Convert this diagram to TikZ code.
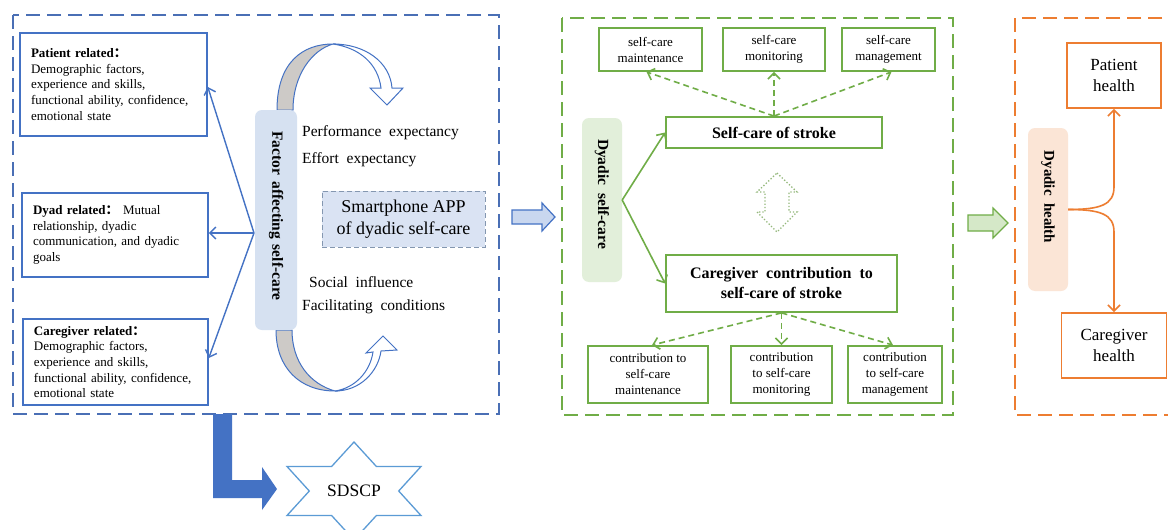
\documentclass[tikz,border=0pt]{standalone}
\usepackage{fontspec}
\setmainfont{Liberation Serif}
\newfontfamily\cjkfont{Noto Sans CJK SC}
\usetikzlibrary{arrows.meta}
\definecolor{bl}{HTML}{4472C4}
\definecolor{bldash}{HTML}{4A6FB5}
\definecolor{lbl}{HTML}{D6E1F1}
\definecolor{appfill}{HTML}{DAE3F3}
\definecolor{appdraw}{HTML}{8497B0}
\definecolor{gr}{HTML}{70AD47}
\definecolor{lgr}{HTML}{E2EFDA}
\definecolor{dgr}{HTML}{93B87A}
\definecolor{lgreenarrow}{HTML}{D5E8C8}
\definecolor{lbluearrow}{HTML}{C9D7EF}
\definecolor{org}{HTML}{ED7D31}
\definecolor{lorg}{HTML}{FBE5D6}
\definecolor{star}{HTML}{5B9BD5}
\definecolor{band}{HTML}{CDCAC7}
\tikzset{
  container/.style={dashed, dash pattern=on 14pt off 7pt, line width=1.8pt},
  leftbox/.style={draw=bl, line width=1.6pt, fill=white, align=left, inner xsep=11pt, inner ysep=0pt, font=\fontsize{13}{15.6}\selectfont},
  vbox/.style={rounded corners=7pt, inner sep=0pt},
  vtext/.style={rotate=-90, font=\fontsize{15}{18}\selectfont\bfseries, inner sep=0pt},
  factortext/.style={anchor=west, inner sep=0pt, font=\fontsize{15.5}{18}\selectfont},
  gbox/.style={draw=gr, line width=1.8pt, fill=white, align=center, inner sep=0pt, font=\fontsize{13}{16}\selectfont},
  gbig/.style={draw=gr, line width=1.8pt, fill=white, align=center, inner sep=0pt, font=\fontsize{16}{20}\selectfont\bfseries},
  obox/.style={draw=org, line width=1.8pt, fill=white, align=center, inner sep=0pt, font=\fontsize{17}{21}\selectfont},
  barb/.style={-{Straight Barb[length=6pt,width=12pt]}},
  bandgray/.style={fill=band, draw=bl, line width=1pt},
  bandwhite/.style={fill=white, draw=bl, line width=1pt},
}
\begin{document}
\begin{tikzpicture}[x=1pt,y=-1pt]
\useasboundingbox (0,0) rectangle (1168,530);
\clip (0,0) rectangle (1168,530);
\fill[white] (0,0) rectangle (1168,530);

% ---------------- left (blue) container
\draw[container, draw=bldash] (13,15) rectangle (499,414);

\node[leftbox, text width=165pt, minimum height=103pt] (pat) at (113.5,84.5)
 {\textbf{Patient related{\cjkfont ：}}\\Demographic factors,\\experience and skills,\\functional ability, confidence,\\emotional state};
\node[leftbox, text width=164pt, minimum height=84pt] (dya) at (115,235)
 {\textbf{Dyad related{\cjkfont ：}} Mutual\\relationship, dyadic\\communication, and dyadic\\goals};
\node[leftbox, text width=163pt, minimum height=86pt] (cgr) at (115.5,362)
 {\textbf{Caregiver related{\cjkfont ：}}\\Demographic factors,\\experience and skills,\\functional ability, confidence,\\emotional state};

% curved band arrows
\draw[bandgray] (277,110) .. controls (277,62) and (303,44) .. (333,44)
  .. controls (312,50) and (293,75) .. (293,110) -- cycle;
\draw[bandwhite] (333,44) .. controls (365,44) and (390,62) .. (392,88)
  -- (403,88) -- (387,105) -- (370,88) -- (381,88)
  .. controls (378,64) and (360,48) .. (333,44) -- cycle;
\draw[bandgray] (276,330) .. controls (276,368) and (300,391) .. (335,391)
  .. controls (310,384) and (292,362) .. (292,330) -- cycle;
\draw[bandwhite] (335,391) .. controls (360,391) and (378,372) .. (381,351)
  -- (397,350) -- (383,336) -- (366,353) -- (373,352)
  .. controls (370,372) and (355,388) .. (335,391) -- cycle;

\node[vbox, fill=lbl, minimum width=42pt, minimum height=220pt] (fa) at (276,220) {};
\node[vtext, font=\fontsize{15.5}{18}\selectfont\bfseries] (fat) at (276,216) {Factor\hspace{6pt}affecting\hspace{6pt}self-care};
\coordinate (fork) at (254,233);
\draw[bl, line width=1.4pt, barb] (fork) -- (pat.east |- 0,87);
\draw[bl, line width=1.4pt, barb] (fork) -- (dya.east |- fork);
\draw[bl, line width=1.4pt, barb] (fork) -- (cgr.east |- 0,358);

\node[factortext] (pe) at (302,133) {Performance\ \ expectancy};
\node[factortext] (ee) at (302,160) {Effort\ \ expectancy};
\node[factortext] (si) at (309,282) {Social\ \ influence};
\node[factortext] (fc) at (302,307) {Facilitating\ \ conditions};
\node[draw=appdraw, dashed, dash pattern=on 5pt off 3pt, line width=1pt, fill=appfill,
  minimum width=163pt, minimum height=56pt, align=center, inner sep=0pt,
  font=\fontsize{18}{22}\selectfont] (app) at (403.5,219) {Smartphone APP\\of dyadic self-care};

% L arrow and star
\fill[bl] (213,414) -- (232,414) -- (232,480) -- (262,480) -- (262,467)
  -- (277,489) -- (262,510) -- (262,498) -- (213,498) -- cycle;
\draw[star, line width=1.3pt, fill=white] (354,442) -- (376.4,466.5) -- (421,466.5) -- (398.7,491)
  -- (421,515.5) -- (376.4,515.5) -- (354,540) -- (331.6,515.5) -- (287,515.5)
  -- (309.3,491) -- (287,466.5) -- (331.6,466.5) -- cycle;
\node[font=\fontsize{17.5}{20}\selectfont, inner sep=0pt] (sd) at (354,491) {SDSCP};

% block arrow blue
\draw[bl, line width=1.2pt, fill=lbluearrow] (512,210) -- (542,210) -- (542,203) -- (555,217)
  -- (542,231) -- (542,224) -- (512,224) -- cycle;

% ---------------- middle (green) container
\draw[container, draw=gr] (562,18) rectangle (953,415);

\node[gbox, minimum width=103pt, minimum height=43pt] (m1) at (650.5,49.5) {self-care\\maintenance};
\node[gbox, minimum width=102pt, minimum height=43pt] (m2) at (774,49.5) {self-care\\monitoring};
\node[gbox, minimum width=93pt, minimum height=43pt] (m3) at (888.5,49.5) {self-care\\management};

\node[gbig, minimum width=216pt, minimum height=31pt] (scs) at (774,132.5) {Self-care\ of\ stroke};
\node[gbig, minimum width=231pt, minimum height=57pt] (cgc) at (781.5,283.5)
  {Caregiver\ \ contribution\ \ to\\self-care\ of\ stroke};

\node[gbox, minimum width=120pt, minimum height=57pt] (b1) at (648,374.5) {contribution to\\self-care\\maintenance};
\node[gbox, minimum width=101pt, minimum height=57pt] (b2) at (781.5,374.5) {contribution\\to self-care\\monitoring};
\node[gbox, minimum width=94pt, minimum height=57pt] (b3) at (895,374.5) {contribution\\to self-care\\management};

\node[vbox, fill=lgr, minimum width=40pt, minimum height=164pt] (ds) at (602,200) {};
\node[vtext, font=\fontsize{15.5}{18}\selectfont\bfseries] (dst) at (602,194) {Dyadic\ \ self-care};

\begin{scope}[gr, line width=1.6pt, barb]
\draw (ds.east) -- (scs.west);
\draw (ds.east) -- (cgc.west);
\end{scope}
\begin{scope}[gr, line width=1.6pt, dashed, dash pattern=on 6pt off 4pt, barb]
\draw (scs.north) -- ([xshift=-4pt]m1.south);
\draw (scs.north) -- (m2.south);
\draw (scs.north) -- ([xshift=3pt]m3.south);
\draw (cgc.south) -- ([xshift=4pt]b1.north);
\draw (cgc.south) -- (b2.north);
\draw (cgc.south) -- ([xshift=-2pt]b3.north);
\end{scope}
\draw[dgr, dotted, line width=1.3pt] (777,173) -- (797,192) -- (789,192) -- (789,212) -- (797,212)
  -- (777,232) -- (757,212) -- (765,212) -- (765,192) -- (757,192) -- cycle;

% block arrow green
\draw[gr, line width=1.2pt, fill=lgreenarrow] (968,215) -- (993,215) -- (993,208) -- (1008,223)
  -- (993,238) -- (993,231) -- (968,231) -- cycle;

% ---------------- right (orange) container
\draw[container, draw=org] (1015,18) rectangle (1185,415);
\node[obox, minimum width=94pt, minimum height=65pt] (ph) at (1114,75.5) {Patient\\health};
\node[obox, minimum width=105pt, minimum height=65pt] (ch) at (1114,345.5) {Caregiver\\health};
\node[vbox, fill=lorg, minimum width=40pt, minimum height=163pt] (dh) at (1048,209.5) {};
\node[vtext] (dht) at (1048,197) {Dyadic\ \ health};
\draw[org, line width=1.6pt, barb] (dh.east) .. controls (1100,209.5) and (1114,205) .. (1114,187) -- (ph.south);
\draw[org, line width=1.6pt, barb] (dh.east) .. controls (1100,209.5) and (1114,214) .. (1114,232) -- (ch.north);
\end{tikzpicture}
\end{document}
